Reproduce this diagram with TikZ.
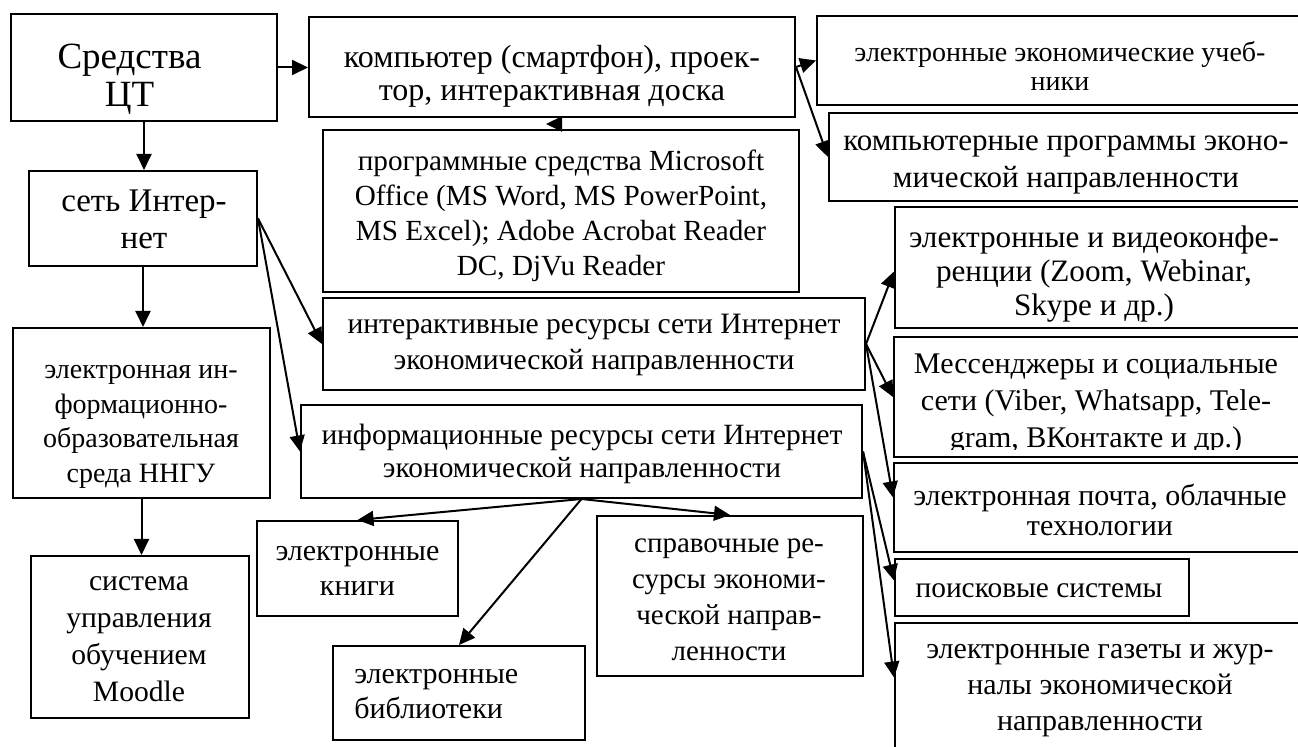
\documentclass[tikz,border=0pt]{standalone}
\usepackage{fontspec}
\setmainfont{Liberation Serif}
\usetikzlibrary{arrows.meta,calc}
\tikzset{
  box/.style={draw, line width=1pt, rectangle, inner sep=0pt},
  txt/.style={inner sep=0pt, align=center},
  arr/.style={line width=1pt, -{Triangle[length=8pt,width=7.5pt]}},
}
% box: name, x1, y1, x2, y2 (pixels, y downward)
\newcommand\putbox[5]{\node[box,minimum width={(#4-#2)*0.5pt},minimum height={(#5-#3)*0.5pt}] (#1) at ({(#2+#4)/2},{(#3+#5)/2}) {};}
% text: [opts] font size, baselineskip, box name, top point, text
\newcommand\puttext[6][]{\node[txt,anchor=north,font=\fontsize{#2}{#3}\selectfont,#1] (#4t) at (#5) {\rule{0pt}{0.8em}#6};}
\begin{document}
\begin{tikzpicture}[x=0.5pt,y=-0.5pt]
\useasboundingbox (0,0) rectangle (1298,747);
\clip (0,0) rectangle (1298,747);
\fill[white] (0,0) rectangle (1298,747);
% ---------- boxes
\putbox{A}{11}{14}{277}{121}
\putbox{K}{29}{171}{257}{266}
\putbox{L}{13}{328}{270}{498}
\putbox{M}{31}{556}{249}{718}
\putbox{B}{309}{17}{795}{117}
\putbox{C}{323}{130}{799}{292}
\putbox{N}{323}{298}{865}{390}
\putbox{O}{301}{405}{862}{498}
\putbox{P}{257}{521}{458}{616}
\putbox{Q}{333}{646}{585}{740}
\putbox{R}{597}{516}{863}{676}
\putbox{D}{817}{16}{1300}{105}
\putbox{E}{829}{113}{1300}{201}
\putbox{F}{895}{207}{1300}{328}
\putbox{G}{894}{337}{1300}{457}
\putbox{H}{894}{463}{1300}{552}
\putbox{I}{895}{559}{1189}{616}
\putbox{J}{895}{623}{1300}{752}
% ---------- texts
\puttext{18.5}{19}{A}{129.5,38.4}{Средства\\ЦТ}
\puttext{16.5}{18.5}{K}{144,184.6}{сеть Интер-\\нет}
\puttext{14}{17.35}{L}{141,355.6}{электронная ин-\\формационно-\\образовательная\\среда ННГУ}
\puttext{14.8}{18.5}{M}{139,566.3}{система\\управления\\обучением\\Moodle}
\puttext{16}{16.75}{B}{552,41.1}{компьютер (смартфон), проек-\\тор, интерактивная доска}
\puttext{14.6}{17.5}{C}{561,146.6}{программные средства Microsoft\\Office (MS Word, MS PowerPoint,\\MS Excel); Adobe Acrobat Reader\\DC, DjVu Reader}
\puttext{14.8}{18}{N}{594,309.3}{интерактивные ресурсы сети Интернет\\экономической направленности}
\puttext{14.7}{16.5}{O}{582,420.5}{информационные ресурсы сети Интернет\\экономической направленности}
\puttext{15}{17.5}{P}{357.5,536}{электронные\\книги}
\puttext[anchor=north west,align=left]{15}{17.5}{Q}{354,659}{электронные\\библиотеки}
\puttext{14.5}{18}{R}{729,528.8}{справочные ре-\\сурсы экономи-\\ческой направ-\\ленности}
\puttext{14}{14.5}{D}{1060,38.6}{электронные экономические учеб-\\ники}
\puttext{15.5}{18.5}{E}{1066,125.2}{компьютерные программы эконо-\\мической направленности}
\puttext{15.6}{17}{F}{1094,222}{электронные и видеоконфе-\\ренции (Zoom, Webinar,\\Skype и др.)}
\begin{scope}
\clip (G.north west) rectangle ($(G.south east)+(0,-8)$);
\puttext{15}{18.5}{G}{1096,349}{Мессенджеры и социальные\\сети (Viber, Whatsapp, Tele-\\gram, ВКонтакте и др.)}
\end{scope}
\puttext{15}{15}{H}{1100,481}{электронная почта, облачные\\технологии}
\puttext{14.7}{17}{I}{1039,573.5}{поисковые системы}
\puttext{15}{18}{J}{1100,634}{электронные газеты и жур-\\налы экономической\\направленности}
% ---------- connectors
\draw[arr] (A.east) -- (A.east -| B.west);
\draw[arr] (A.south) -- (A.south |- K.north);
\draw[arr] (K.south) -- (K.south |- L.north);
\draw[arr] (L.south) -- (L.south |- M.north);
\draw[arr] (B.east) -- (D.west);
\draw[arr] (B.east) -- (E.west);
\coordinate (hb) at ($(B.south)+(9,6)$);
\coordinate (ht) at ($(B.south)+(-6,6)$);
\draw[arr] (hb) -- (ht);
\draw[arr] (K.east) -- (N.west);
\draw[arr] (K.east) -- (O.west);
\draw[arr] (N.east) -- ($(F.west)+(0,4)$);
\draw[arr] (N.east) -- (G.west);
\draw[arr] (N.east) -- ($(H.west)+(0,-10)$);
\draw[arr] (O.east) -- ($(I.west)+(0,-7)$);
\draw[arr] (O.east) -- ($(J.west)+(0,-10)$);
\draw[arr] (O.south) -- (P.north);
\draw[arr] (O.south) -- (Q.north);
\draw[arr] (O.south) -- (R.north);
\end{tikzpicture}
\end{document}
